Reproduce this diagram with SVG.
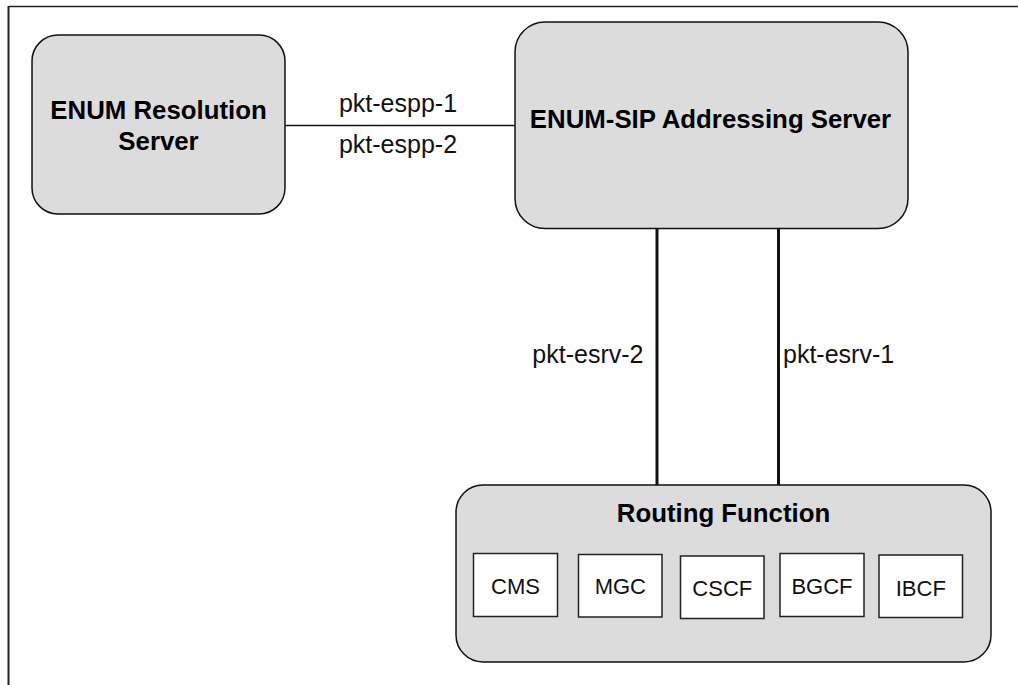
<svg xmlns="http://www.w3.org/2000/svg" width="1018" height="685" viewBox="0 0 1018 685">
<style>
.big{fill:#dcdcdc;stroke:#111;stroke-width:1.5}
.sm{fill:#fff;stroke:#222;stroke-width:1.5}
.b{font-family:"Liberation Sans",Arial,sans-serif;font-weight:bold;font-size:25.8px;fill:#000;text-anchor:middle}
.l{font-family:"Liberation Sans",Arial,sans-serif;font-size:25px;fill:#111}
.s{font-family:"Liberation Sans",Arial,sans-serif;font-size:22px;fill:#111;text-anchor:middle}
</style>
<rect width="1018" height="685" fill="#fff"/>
<g id="frame" fill="none" stroke="#222">
<line x1="8.5" y1="6.5" x2="1018" y2="6.5" stroke-width="1.5"/>
<line x1="8.5" y1="6" x2="8.5" y2="685" stroke-width="2"/>
</g>
<g id="connectors" stroke="#111" fill="none">
<line x1="285" y1="125.5" x2="515" y2="125.5" stroke-width="1.3"/>
<line x1="657" y1="229" x2="657" y2="485" stroke-width="3"/>
<line x1="778.5" y1="229" x2="778.5" y2="485" stroke-width="3"/>
<text class="l" x="398" y="112" text-anchor="middle" stroke="none">pkt-espp-1</text>
<text class="l" x="398" y="153" text-anchor="middle" stroke="none">pkt-espp-2</text>
<text class="l" x="643.5" y="363" text-anchor="end" stroke="none">pkt-esrv-2</text>
<text class="l" x="783" y="363" text-anchor="start" stroke="none">pkt-esrv-1</text>
</g>
<g id="enum-resolution-server">
<rect class="big" x="32" y="35" width="253" height="179" rx="26"/>
<text class="b" x="158.5" y="119">ENUM Resolution</text>
<text class="b" x="158.5" y="150">Server</text>
</g>
<g id="enum-sip-addressing-server">
<rect class="big" x="515" y="22" width="393" height="206.5" rx="30"/>
<text class="b" x="710.5" y="128.3">ENUM-SIP Addressing Server</text>
</g>
<g id="routing-function">
<rect class="big" x="456" y="485" width="535" height="177" rx="27"/>
<text class="b" x="723.5" y="521.5">Routing Function</text>
</g>
<g id="cms">
<rect class="sm" x="473.5" y="553.5" width="84" height="63"/>
<text class="s" x="515.5" y="594">CMS</text>
</g>
<g id="mgc">
<rect class="sm" x="578.5" y="554.5" width="83.5" height="62.5"/>
<text class="s" x="620.3" y="594">MGC</text>
</g>
<g id="cscf">
<rect class="sm" x="680.5" y="556" width="83.5" height="62.5"/>
<text class="s" x="722.3" y="595.7">CSCF</text>
</g>
<g id="bgcf">
<rect class="sm" x="780" y="553.5" width="84" height="63"/>
<text class="s" x="822" y="594">BGCF</text>
</g>
<g id="ibcf">
<rect class="sm" x="879" y="555" width="83.5" height="62.5"/>
<text class="s" x="920.8" y="595.7">IBCF</text>
</g>
</svg>
